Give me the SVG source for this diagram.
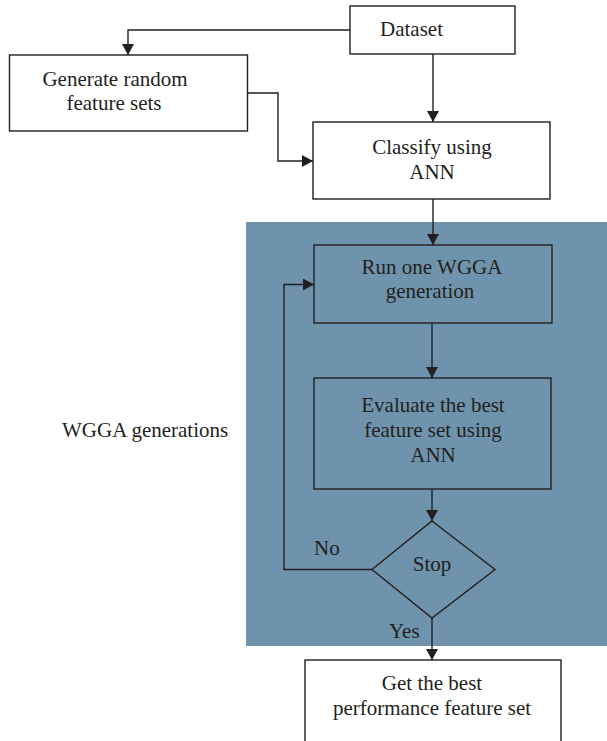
<svg xmlns="http://www.w3.org/2000/svg" width="607" height="741" viewBox="0 0 607 741" font-family="'Liberation Serif', 'Times New Roman', serif" font-size="21">
<style>
.box{fill:#fff;stroke:#231f20;stroke-width:1.4}
.inbox{fill:none;stroke:#231f20;stroke-width:1.4}
.t{fill:#231f20}
.ln{fill:none;stroke:#231f20;stroke-width:1.4}
</style>
<defs>
<marker id="ah" markerUnits="userSpaceOnUse" markerWidth="11" markerHeight="12" refX="11" refY="6" orient="auto">
<path d="M0,0 L11,6 L0,12 z" fill="#231f20"/>
</marker>
</defs>
<rect id="wgga-region" x="246" y="222" width="361" height="424" fill="#6f93ac"/>
<text class="t" x="62" y="437">WGGA generations</text>
<g id="dataset">
<rect class="box" x="350" y="6" width="165" height="48"/>
<text class="t" x="380" y="36">Dataset</text>
</g>
<g id="generate">
<rect class="box" x="9.5" y="55" width="238" height="76"/>
<text class="t" x="115" y="86" text-anchor="middle">Generate random</text>
<text class="t" x="114" y="110" text-anchor="middle">feature sets</text>
</g>
<g id="classify">
<rect class="box" x="313" y="122" width="237" height="77"/>
<text class="t" x="432" y="154" text-anchor="middle">Classify using</text>
<text class="t" x="432" y="179" text-anchor="middle">ANN</text>
</g>
<g id="run">
<rect class="inbox" x="314" y="245" width="238" height="78"/>
<text class="t" x="432" y="274" text-anchor="middle">Run one WGGA</text>
<text class="t" x="430" y="298" text-anchor="middle">generation</text>
</g>
<g id="evaluate">
<rect class="inbox" x="314" y="378" width="237" height="111"/>
<text class="t" x="433" y="412" text-anchor="middle">Evaluate the best</text>
<text class="t" x="433" y="437" text-anchor="middle">feature set using</text>
<text class="t" x="433" y="462" text-anchor="middle">ANN</text>
</g>
<g id="stop">
<polygon class="inbox" points="432,521 495,569.5 432,618 372,569.5"/>
<text class="t" x="432" y="571" text-anchor="middle">Stop</text>
</g>
<g id="result">
<rect class="box" x="305" y="660" width="256" height="90"/>
<text class="t" x="432" y="690" text-anchor="middle">Get the best</text>
<text class="t" x="432" y="715" text-anchor="middle">performance feature set</text>
</g>
<g id="connectors">
<polyline class="ln" points="350,30 128,30 128,55" marker-end="url(#ah)"/>
<line class="ln" x1="433" y1="54" x2="433" y2="122" marker-end="url(#ah)"/>
<polyline class="ln" points="248,93 278,93 278,161 313,161" marker-end="url(#ah)"/>
<line class="ln" x1="433" y1="199" x2="433" y2="245" marker-end="url(#ah)"/>
<line class="ln" x1="432" y1="323" x2="432" y2="378" marker-end="url(#ah)"/>
<line class="ln" x1="432" y1="489" x2="432" y2="521" marker-end="url(#ah)"/>
<polyline class="ln" points="372,569.5 284,569.5 284,284.5 314,284.5" marker-end="url(#ah)"/>
<line class="ln" x1="432" y1="618" x2="432" y2="660" marker-end="url(#ah)"/>
<text class="t" x="314" y="555">No</text>
<text class="t" x="389" y="638">Yes</text>
</g>
</svg>
